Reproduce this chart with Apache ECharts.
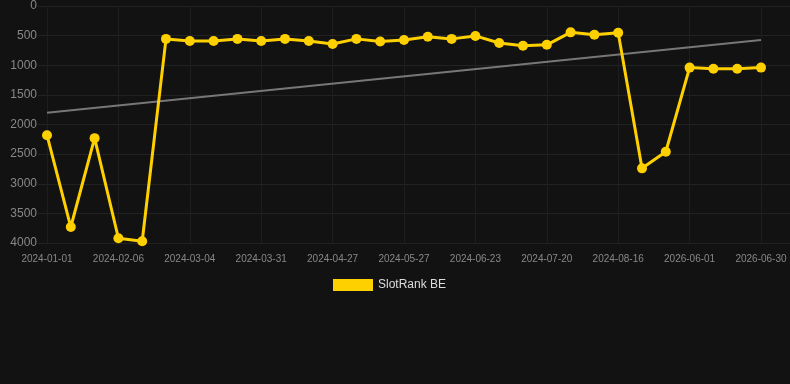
<!DOCTYPE html>
<html>
<head>
<meta charset="utf-8">
<script src="https://cdn.jsdelivr.net/npm/echarts@6/dist/echarts.min.js"></script>
<style>
    html, body { margin: 0; padding: 0; background: #121212; }
    #chart { width: 790px; height: 384px; }
</style>
</head>
<body>
<div id="chart"></div>
<script>
// dates on the x axis (only every third one is labelled)
const dates = [
    '2024-01-01', '2024-01-13', '2024-01-25', '2024-02-06', '2024-02-15', '2024-02-24',
    '2024-03-04', '2024-03-13', '2024-03-22', '2024-03-31', '2024-04-09', '2024-04-18',
    '2024-04-27', '2024-05-07', '2024-05-17', '2024-05-27', '2024-06-05', '2024-06-14',
    '2024-06-23', '2024-07-02', '2024-07-11', '2024-07-20', '2024-07-29', '2024-08-07',
    '2024-08-16', '2024-08-25', '2024-09-03', '2026-06-01', '2026-06-10', '2026-06-20',
    '2026-06-30'
];
// rank values (lower is better, axis is inverted)
const ranks = [
    2180, 3730, 2230, 3920, 3970, 555, 590, 590, 555, 590, 555,
    590, 640, 555, 600, 575, 520, 555, 505, 625, 670, 655,
    445, 485, 450, 2740, 2460, 1040, 1060, 1060, 1040
];
// trend line end points [categoryIndex, value]
const trendPoints = [[0, 1800], [30, 575]];
const yTicks = { min: 0, max: 4000, interval: 500 };

const chart = echarts.init(document.getElementById('chart'));
chart.setOption({
    backgroundColor: '#121212',
    animation: false,
    legend: {
        data: ['SlotRank BE'],
        top: 274, left: 328,
        itemWidth: 40, itemHeight: 12, itemGap: 10,
        icon: 'rect',
        textStyle: { color: '#dddddd', fontSize: 12, fontFamily: 'Liberation Sans, Arial, sans-serif' }
    },
    grid: [
        { left: 47, right: 29, top: 6, bottom: 141 },
        { left: 38, right: 0, top: 6, bottom: 141 }
    ],
    xAxis: [{
        type: 'category', data: dates, boundaryGap: false, gridIndex: 0,
        axisLine: { show: false }, axisTick: { show: false },
        axisLabel: { interval: 2, color: '#888888', fontSize: 10, margin: 11, fontFamily: 'Liberation Sans, Arial, sans-serif' },
        splitLine: { show: true, interval: 2, lineStyle: { color: '#1e1e1e', width: 1 } }
    }, {
        type: 'value', gridIndex: 1, show: false
    }],
    yAxis: [{
        type: 'value', inverse: true, gridIndex: 0, ...yTicks,
        axisLine: { show: false }, axisTick: { show: false },
        axisLabel: { color: '#888888', fontSize: 12, margin: 10, formatter: v => String(v), fontFamily: 'Liberation Sans, Arial, sans-serif' },
        splitLine: { show: false }
    }, {
        type: 'value', inverse: true, gridIndex: 1, ...yTicks,
        axisLine: { show: false }, axisTick: { show: false }, axisLabel: { show: false },
        splitLine: { show: true, lineStyle: { color: '#222222', width: 1 } }
    }],
    series: [{
        name: 'trend', type: 'line', data: trendPoints,
        xAxisIndex: 0, yAxisIndex: 0,
        symbol: 'none', z: 2,
        lineStyle: { color: '#777777', width: 2 }
    }, {
        name: 'SlotRank BE', type: 'line', data: ranks,
        xAxisIndex: 0, yAxisIndex: 0,
        symbol: 'circle', symbolSize: 10, z: 3,
        itemStyle: { color: '#FFD000' },
        lineStyle: { color: '#FFD000', width: 3 }
    }]
});
</script>
</body>
</html>
